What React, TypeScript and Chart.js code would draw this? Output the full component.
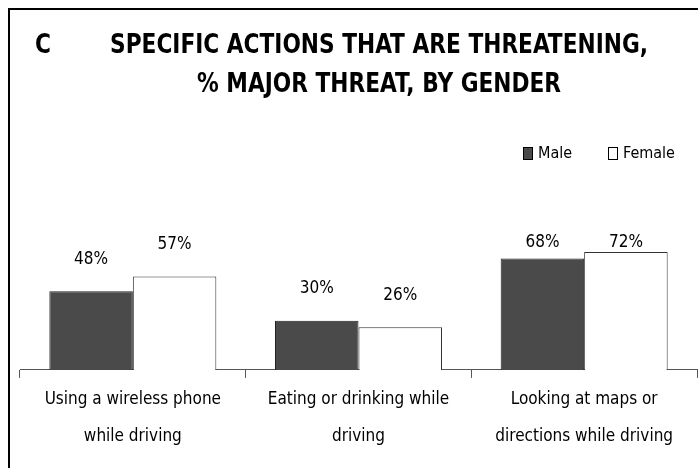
import React, { useEffect, useRef } from "react";
import { Chart, registerables } from "chart.js";

Chart.register(...registerables);

const categories: string[][] = [
  ["Using a wireless phone", "while driving"],
  ["Eating or drinking while", "driving"],
  ["Looking at maps or", "directions while driving"],
];
const maleValues = [48, 30, 68];
const femaleValues = [57, 26, 72];
const seriesNames = ["Male", "Female"];
const titleLetter = "C";
const titleLines = ["SPECIFIC ACTIONS THAT ARE THREATENING,", "% MAJOR THREAT, BY GENDER"];

const FONT = "'DejaVu Sans Condensed', 'Liberation Sans Narrow', sans-serif";

function drawFit(ctx: CanvasRenderingContext2D, text: string, x: number, y: number, sx: number) {
  ctx.save();
  ctx.translate(x, y);
  ctx.scale(sx, 1);
  ctx.fillText(text, 0, 0);
  ctx.restore();
}

const decorPlugin = {
  id: "decor",
  afterDraw(chart: any) {
    const ctx = chart.ctx as CanvasRenderingContext2D;
    ctx.save();
    // Title
    ctx.fillStyle = "#000";
    ctx.textBaseline = "middle";
    ctx.textAlign = "left";
    ctx.font = `bold 27px ${FONT}`;
    const sx = 538 / ctx.measureText(titleLines[0]).width;
    drawFit(ctx, titleLetter, 25, 36, sx);
    drawFit(ctx, titleLines[0], 100, 36, sx);
    drawFit(ctx, titleLines[1], 187, 75, sx);

    // Legend
    ctx.font = `16px ${FONT}`;
    const items = [
      { x: 513, ds: chart.data.datasets[0] },
      { x: 598, ds: chart.data.datasets[1] },
    ];
    items.forEach((it) => {
      ctx.fillStyle = it.ds.backgroundColor;
      ctx.fillRect(it.x + 0.5, 137.5, 9, 12);
      ctx.strokeStyle = "#000";
      ctx.lineWidth = 1;
      ctx.strokeRect(it.x + 0.5, 137.5, 9, 12);
      ctx.fillStyle = "#000";
      ctx.fillText(it.ds.label, it.x + 15, 144);
    });

    // Data labels
    ctx.font = `17px ${FONT}`;
    ctx.textAlign = "center";
    chart.data.datasets.forEach((ds: any, di: number) => {
      const meta = chart.getDatasetMeta(di);
      meta.data.forEach((bar: any, i: number) => {
        const y = Math.max(bar.y - 32, 233);
        ctx.fillText(`${ds.data[i]}%`, bar.x, y);
      });
    });
    ctx.restore();
  },
};

export default function App() {
  const ref = useRef<HTMLCanvasElement>(null);
  useEffect(() => {
    if (!ref.current) return;
    const chart = new Chart(ref.current, {
      type: "bar",
      data: {
        labels: categories,
        datasets: [
          {
            label: seriesNames[0],
            data: maleValues,
            backgroundColor: "#4a4a4a",
            borderColor: "#222",
            borderWidth: 1,
            categoryPercentage: 0.74,
            barPercentage: 1,
          },
          {
            label: seriesNames[1],
            data: femaleValues,
            backgroundColor: "#ffffff",
            borderColor: "#333",
            borderWidth: 1,
            categoryPercentage: 0.74,
            barPercentage: 1,
          },
        ],
      },
      options: {
        animation: false,
        responsive: false,
        maintainAspectRatio: false,
        layout: { padding: { top: 196, left: 10, right: 1, bottom: 10 } },
        plugins: {
          legend: { display: false },
          title: { display: false },
          tooltip: { enabled: false },
        },
        scales: {
          x: {
            grid: {
              display: true,
              offset: true,
              drawOnChartArea: false,
              tickLength: 8,
              color: "#555",
            },
            border: { display: true, color: "#555", width: 1 },
            ticks: {
              color: "#000",
              padding: 3,
              maxRotation: 0,
              font: { family: FONT, size: 17, lineHeight: 2.18 },
            },
          },
          y: {
            display: false,
            min: 0,
            max: 100,
          },
        },
      },
      plugins: [decorPlugin],
    });
    return () => chart.destroy();
  }, []);
  return (
    <div
      style={{
        position: "fixed",
        left: 8,
        top: 8,
        width: 690,
        height: 460,
        borderTop: "2px solid #000",
        borderLeft: "2px solid #000",
        boxSizing: "border-box",
        background: "#fff",
        overflow: "hidden",
      }}
    >
      <canvas ref={ref} width={688} height={458} style={{ display: "block" }} />
    </div>
  );
}
